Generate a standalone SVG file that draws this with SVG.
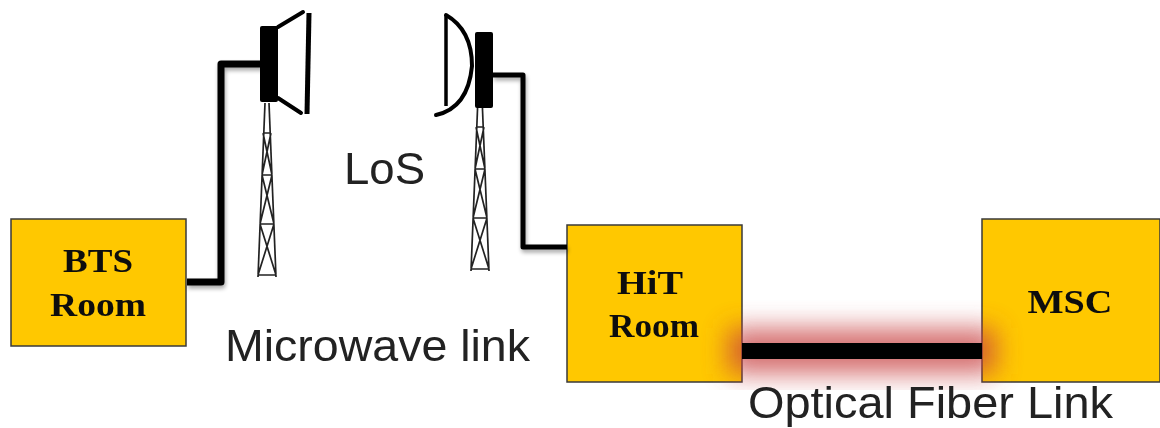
<svg xmlns="http://www.w3.org/2000/svg" width="1160" height="428" viewBox="0 0 1160 428">
<style>
.room{fill:#ffc800;stroke:#3a3a3a;stroke-width:1.5}
.rl{font-family:"Liberation Serif",serif;font-weight:bold;font-size:33px;text-anchor:middle;fill:#111}
.lab{font-family:"Liberation Sans",sans-serif;font-size:44px;fill:#222}
.wire{fill:none;stroke:#000;stroke-linejoin:round}
.t{fill:none;stroke:#222;stroke-width:1.7}
</style>
<defs>
<filter id="glow" x="-20%" y="-100%" width="140%" height="300%"><feGaussianBlur stdDeviation="13"/></filter>
<filter id="soft" x="-10%" y="-10%" width="130%" height="130%"><feGaussianBlur stdDeviation="0.7"/></filter>
<filter id="txt" x="-5%" y="-10%" width="110%" height="120%"><feGaussianBlur stdDeviation="0.45"/></filter>
<filter id="sh" x="-10%" y="-10%" width="120%" height="120%"><feGaussianBlur in="SourceAlpha" stdDeviation="2"/><feOffset dx="1" dy="3"/><feComponentTransfer><feFuncA type="linear" slope="0.35"/></feComponentTransfer><feMerge><feMergeNode/><feMergeNode in="SourceGraphic"/></feMerge></filter>
<clipPath id="gc"><rect x="700" y="300" width="330" height="90"/></clipPath>
<g id="tower"><path class="t" d="M-2 0L-9 174M2 0L9 174M-4 30H4M-5 72H5M-7 121H7M-9 172H9M-4 30L5 72M4 30L-5 72M-5 72L7 121M5 72L-7 121M-7 121L9 172M7 121L-9 172"/></g>
</defs>
<rect width="1160" height="428" fill="#fff"/>
<g id="nodes">
<g id="bts"><rect class="room" x="11" y="219" width="175" height="127"/><g filter="url(#txt)"><text class="rl" x="98" y="272" textLength="70" lengthAdjust="spacingAndGlyphs">BTS</text><text class="rl" x="98" y="316" textLength="96" lengthAdjust="spacingAndGlyphs">Room</text></g></g>
<g id="hit"><rect class="room" x="567" y="225" width="175" height="157"/><g filter="url(#txt)"><text class="rl" x="650" y="294" textLength="66" lengthAdjust="spacingAndGlyphs">HiT</text><text class="rl" x="654" y="337" textLength="90" lengthAdjust="spacingAndGlyphs">Room</text></g></g>
<g id="msc"><rect class="room" x="982" y="219" width="178" height="163"/><g filter="url(#txt)"><text class="rl" x="1070" y="313" textLength="85" lengthAdjust="spacingAndGlyphs">MSC</text></g></g>
</g>
<g id="connectors">
<g clip-path="url(#gc)"><rect x="728" y="328" width="268" height="46" fill="#c8403f" opacity="0.75" filter="url(#glow)"/></g>
<path d="M742 351H982" stroke="#000" stroke-width="16" fill="none"/>
<g filter="url(#sh)">
<path class="wire" stroke-width="7" d="M187 282H221V64H262"/>
<path class="wire" stroke-width="5" d="M493 75H523V247H567"/>
</g>
</g>
<g id="antenna-left" filter="url(#soft)">
<use href="#tower" x="267" y="103"/>
<rect x="260" y="26" width="18" height="76" rx="2" fill="#000"/>
<path d="M278 27L303 12M278 98L301 113" fill="none" stroke="#000" stroke-width="4" stroke-linecap="round"/>
<path d="M309 13L307 114" fill="none" stroke="#000" stroke-width="5"/>
</g>
<g id="antenna-right" filter="url(#soft)">
<use href="#tower" x="480" y="97"/>
<rect x="475" y="32" width="18" height="76" rx="2" fill="#000"/>
<path d="M446 15Q472 30 472 66Q468 108 436 115" fill="none" stroke="#000" stroke-width="4" stroke-linecap="round"/>
<path d="M446 15V106" fill="none" stroke="#000" stroke-width="3.5"/>
</g>
<g id="labels" filter="url(#txt)">
<text class="lab" x="344" y="184" textLength="81" lengthAdjust="spacingAndGlyphs">LoS</text>
<text class="lab" x="225" y="361" textLength="305" lengthAdjust="spacingAndGlyphs">Microwave link</text>
<text class="lab" x="748" y="418" textLength="365" lengthAdjust="spacingAndGlyphs">Optical Fiber Link</text>
</g>
</svg>
